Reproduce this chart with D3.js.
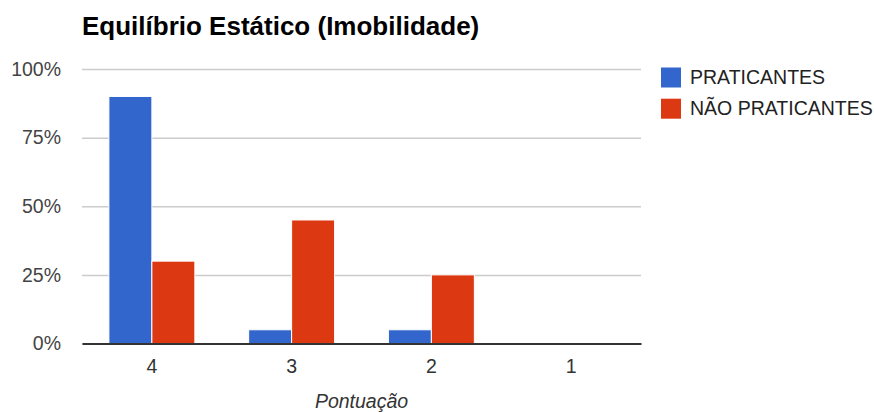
<!DOCTYPE html>
<html>
<head>
<meta charset="utf-8">
<script src="https://cdn.jsdelivr.net/npm/d3@7/dist/d3.min.js"></script>
<style>
  html, body { margin: 0; padding: 0; background: #fff; }
  svg { display: block; font-family: Arial, "Liberation Sans", sans-serif; }
</style>
</head>
<body>
<svg id="chart" width="874" height="412"></svg>
<script>
// Balance test scores by group (share of respondents)
const categories = ["4", "3", "2", "1"];
const seriesNames = ["PRATICANTES", "NÃO PRATICANTES"];
const praticantes = [0.90, 0.05, 0.05, 0.00];
const naoPraticantes = [0.30, 0.45, 0.25, 0.00];
const yTicks = [0, 0.25, 0.5, 0.75, 1];
const colors = ["#3366cc", "#dc3912"];

const seriesValues = [praticantes, naoPraticantes];

const svg = d3.select("#chart");
const plot = { left: 82, right: 641, top: 69, bottom: 343.5 };

const x = d3.scaleBand()
  .domain(categories)
  .range([plot.left, plot.right])
  .paddingInner(0)
  .paddingOuter(0);

const groupWidth = x.bandwidth() * 0.615;
const xSub = d3.scaleBand()
  .domain(seriesNames)
  .range([0, groupWidth])
  .padding(0);

const y = d3.scaleLinear()
  .domain([0, 1])
  .range([plot.bottom, plot.top]);

// Title
svg.append("text")
  .attr("x", 82)
  .attr("y", 35)
  .attr("font-size", 26)
  .attr("font-weight", "bold")
  .attr("fill", "#000")
  .text("Equilíbrio Estático (Imobilidade)");

// Gridlines and y-axis labels
const yAxis = d3.axisLeft(y)
  .tickValues(yTicks)
  .tickFormat(d3.format(".0%"))
  .tickSize(-(plot.right - plot.left))
  .tickPadding(21);

const gy = svg.append("g")
  .attr("transform", `translate(${plot.left},0)`)
  .call(yAxis);
gy.select(".domain").remove();
gy.selectAll(".tick line")
  .attr("stroke", "#cccccc")
  .attr("stroke-width", 1.5);
gy.selectAll(".tick text")
  .attr("font-size", 19.5)
  .attr("fill", "#444")
  .attr("font-family", "Arial, 'Liberation Sans', sans-serif");

// Bars
const groups = svg.append("g")
  .selectAll("g")
  .data(categories)
  .join("g")
  .attr("transform", d => `translate(${x(d) + (x.bandwidth() - groupWidth) / 2},0)`);

groups.selectAll("rect")
  .data((d, i) => seriesNames.map((s, j) => ({ s, j, v: seriesValues[j][i] })))
  .join("rect")
  .attr("x", d => xSub(d.s))
  .attr("width", xSub.bandwidth())
  .attr("y", d => y(d.v))
  .attr("height", d => y(0) - y(d.v))
  .attr("fill", d => colors[d.j])
  .attr("stroke", "#fff")
  .attr("stroke-width", d => d.v > 0 ? 1 : 0);

// X axis with baseline
const xAxis = d3.axisBottom(x).tickSize(0).tickPadding(16);
const gx = svg.append("g")
  .attr("transform", `translate(0,${plot.bottom})`)
  .call(xAxis);
gx.select(".domain")
  .attr("stroke", "#333")
  .attr("stroke-width", 2);
gx.selectAll(".tick text")
  .attr("font-size", 19.5)
  .attr("fill", "#333")
  .attr("font-family", "Arial, 'Liberation Sans', sans-serif");

// X axis title
svg.append("text")
  .attr("x", (plot.left + plot.right) / 2)
  .attr("y", 408)
  .attr("text-anchor", "middle")
  .attr("font-size", 19.5)
  .attr("font-style", "italic")
  .attr("fill", "#333")
  .text("Pontuação");

// Legend
const legend = svg.append("g")
  .selectAll("g")
  .data(seriesNames)
  .join("g")
  .attr("transform", (d, i) => `translate(661,${67.5 + i * 31.2})`);

legend.append("rect")
  .attr("width", 20)
  .attr("height", 20)
  .attr("fill", (d, i) => colors[i]);

legend.append("text")
  .attr("x", 29)
  .attr("y", 16.5)
  .attr("font-size", 19.5)
  .attr("fill", "#222")
  .text(d => d);
</script>
</body>
</html>
